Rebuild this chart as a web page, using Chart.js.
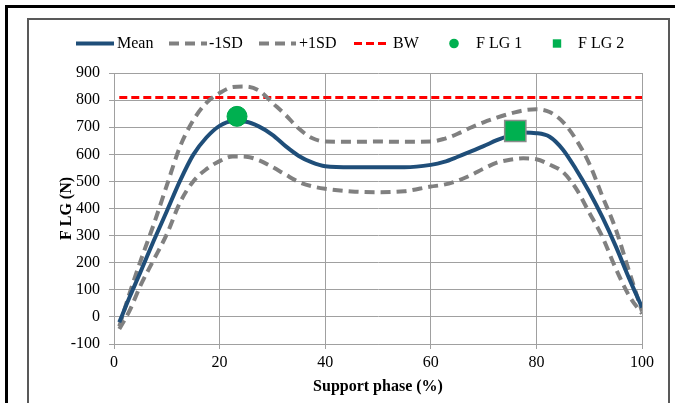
<!DOCTYPE html>
<html>
<head>
<meta charset="utf-8">
<script src="https://cdn.jsdelivr.net/npm/chart.js@4"></script>
<style>
  html, body { margin: 0; padding: 0; background: #fff; }
  canvas { display: block; }
</style>
</head>
<body>
<canvas id="flgChart" width="675" height="403"></canvas>
<script>
// support phase (%) where the curves were read
const phase = [1, 3, 5, 7.5, 10, 12.5, 15, 17.5, 20, 22.5, 25, 27.5, 30, 32.5, 35, 37.5, 40, 45, 50,
               55, 60, 62.5, 65, 67.5, 70, 72.5, 75, 77.5, 80, 82.5, 85, 87.5, 90, 92.5, 95, 97.5, 100];
const meanForce = [-20, 75, 165, 280, 390, 502, 598, 662, 705, 722, 720, 702, 672, 630, 594, 570, 556, 552, 552,
                   552, 561, 572, 590, 610, 630, 652, 670, 680, 678, 665, 618, 545, 462, 368, 262, 145, 35];
const minusSD = [-45, 25, 115, 210, 305, 422, 500, 545, 575, 592, 591, 578, 553, 525, 498, 482, 473, 463, 460,
                 464, 481, 488, 502, 522, 547, 569, 580, 585, 582, 562, 535, 474, 385, 295, 180, 80, 12];
const plusSD = [-35, 90, 205, 340, 485, 628, 725, 790, 826, 848, 850, 835, 790, 745, 695, 660, 647, 646, 647,
                646, 647, 657, 675, 698, 718, 735, 750, 762, 766, 756, 720, 655, 566, 445, 325, 172, 20];
// body weight line
const bwPhase = [1, 100];
const bodyWeight = [810, 810];
// the two force peaks
const flgPhase = [23.3, 76];
const flgValue = [740, 686];

const serif = 'Liberation Serif';
const gridGray = '#A0A0A0';

function pts(xs, ys) {
  return xs.map((x, i) => ({ x: x, y: ys[i] }));
}

// outer and inner frames, like the pasted figure
const framePlugin = {
  id: 'frames',
  beforeDraw(chart) {
    const ctx = chart.ctx;
    ctx.save();
    ctx.fillStyle = '#fff';
    ctx.fillRect(0, 0, chart.width, chart.height);
    ctx.strokeStyle = '#000';
    ctx.lineWidth = 3;
    ctx.strokeRect(6.5, 6.5, 720, 450);
    ctx.strokeStyle = '#595959';
    ctx.lineWidth = 2;
    ctx.strokeRect(28, 19, 641, 450);
    ctx.restore();
  }
};

// legend row at the top (spacing is uneven in the original)
const legendSpots = [
  { x: 76, w: 38, tx: 117 },
  { x: 169, w: 38, tx: 209 },
  { x: 259, w: 37, tx: 299 },
  { x: 354, w: 34, tx: 393 },
  { x: 454, tx: 476 },
  { x: 557, tx: 578 }
];

const legendPlugin = {
  id: 'topLegend',
  afterDraw(chart) {
    const ctx = chart.ctx;
    const y = 43.5;
    ctx.save();
    chart.data.datasets.forEach((ds, i) => {
      const s = legendSpots[i];
      if (ds.showLine === false) {
        ctx.fillStyle = ds.backgroundColor;
        ctx.beginPath();
        if (ds.pointStyle === 'rect') {
          ctx.rect(s.x - 4.2, y - 4.2, 8.4, 8.4);
        } else {
          ctx.arc(s.x, y, 4.8, 0, Math.PI * 2);
        }
        ctx.fill();
      } else {
        ctx.strokeStyle = ds.borderColor;
        ctx.lineWidth = ds.borderWidth;
        ctx.setLineDash(ds.borderDash || []);
        ctx.beginPath();
        ctx.moveTo(s.x, y);
        ctx.lineTo(s.x + s.w, y);
        ctx.stroke();
        ctx.setLineDash([]);
      }
      ctx.fillStyle = '#000';
      ctx.font = '16px "' + serif + '"';
      ctx.textBaseline = 'middle';
      ctx.textAlign = 'left';
      ctx.fillText(ds.label, s.tx, y);
    });
    ctx.restore();
  }
};

const ctx = document.getElementById('flgChart').getContext('2d');
const flgChart = new Chart(ctx, {
  type: 'line',
  data: {
    datasets: [
      {
        label: 'Mean',
        data: pts(phase, meanForce),
        borderColor: '#1F4E79',
        borderWidth: 4,
        pointRadius: 0,
        cubicInterpolationMode: 'monotone',
        order: 1
      },
      {
        label: '-1SD',
        data: pts(phase, minusSD),
        borderColor: '#808080',
        borderWidth: 4,
        borderDash: [10, 6],
        pointRadius: 0,
        cubicInterpolationMode: 'monotone',
        order: 2
      },
      {
        label: '+1SD',
        data: pts(phase, plusSD),
        borderColor: '#808080',
        borderWidth: 4,
        borderDash: [10, 6],
        pointRadius: 0,
        cubicInterpolationMode: 'monotone',
        order: 2
      },
      {
        label: 'BW',
        data: pts(bwPhase, bodyWeight),
        borderColor: '#FF0000',
        borderWidth: 3,
        borderDash: [8, 4],
        pointRadius: 0,
        order: 3
      },
      {
        label: 'F LG 1',
        data: [{ x: flgPhase[0], y: flgValue[0] }],
        showLine: false,
        pointStyle: 'circle',
        pointRadius: 10,
        backgroundColor: '#00B050',
        borderColor: '#00A84C',
        borderWidth: 1,
        order: 0
      },
      {
        label: 'F LG 2',
        data: [{ x: flgPhase[1], y: flgValue[1] }],
        showLine: false,
        pointStyle: 'rect',
        pointRadius: 15,
        backgroundColor: '#00B050',
        borderColor: '#8C8C8C',
        borderWidth: 1.5,
        order: 0
      }
    ]
  },
  options: {
    responsive: false,
    animation: false,
    layout: { padding: { left: 28, right: 33, top: 73, bottom: 0 } },
    plugins: {
      legend: { display: false },
      tooltip: { enabled: false }
    },
    scales: {
      x: {
        type: 'linear',
        min: 0,
        max: 100,
        ticks: { stepSize: 20, color: '#000', font: { family: serif, size: 16 }, padding: 4 },
        grid: { color: gridGray, tickLength: 5, tickColor: gridGray },
        border: { color: gridGray },
        title: {
          display: true,
          text: 'Support phase (%)',
          color: '#000',
          font: { family: serif, size: 16, weight: 'bold' },
          padding: { top: 0, bottom: 7 }
        },
        afterFit(scale) { scale.height = 59; }
      },
      y: {
        min: -100,
        max: 900,
        ticks: { stepSize: 100, color: '#000', font: { family: serif, size: 16 }, padding: 9 },
        grid: { color: gridGray, tickLength: 5, tickColor: gridGray },
        border: { color: gridGray },
        title: {
          display: true,
          text: 'F LG (N)',
          color: '#000',
          font: { family: serif, size: 16, weight: 'bold' },
          padding: { top: 29, bottom: 0 }
        },
        afterFit(scale) { scale.width = 86; }
      }
    }
  },
  plugins: [framePlugin, legendPlugin]
});
</script>
</body>
</html>
